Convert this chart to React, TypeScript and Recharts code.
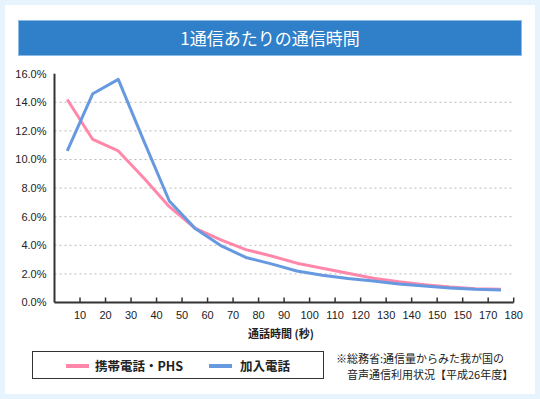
import React from 'react';
import { LineChart, Line, XAxis, YAxis, CartesianGrid } from 'recharts';

// 通話時間（秒） — midpoints of each 10-second bucket
const seconds = [5, 15, 25, 35, 45, 55, 65, 75, 85, 95, 105, 115, 125, 135, 145, 155, 165, 175];
// 携帯電話・PHS (%)
const mobile = [14.2, 11.4, 10.6, 8.7, 6.7, 5.2, 4.4, 3.7, 3.25, 2.75, 2.4, 2.05, 1.7, 1.45, 1.25, 1.08, 0.97, 0.92];
// 加入電話 (%)
const landline = [10.6, 14.6, 15.6, 11.3, 7.1, 5.2, 4.0, 3.15, 2.7, 2.2, 1.9, 1.68, 1.5, 1.3, 1.15, 1.02, 0.92, 0.88];

const xTicks = [10, 20, 30, 40, 50, 60, 70, 80, 90, 100, 110, 120, 130, 140, 150, 160, 170, 180];
// labels as printed in the original (160 is shown as "150")
const xTickLabels = ['10', '20', '30', '40', '50', '60', '70', '80', '90', '100', '110', '120', '130', '140', '150', '150', '170', '180'];
const yTicks = [0, 2, 4, 6, 8, 10, 12, 14, 16];
const gridValues = [2, 4, 6, 8, 10, 12, 14];

const seriesNames = ['携帯電話・PHS', '加入電話'];
const PINK = '#FF88AA';
const BLUE = '#6699E0';

const data = seconds.map((s, i) => ({ sec: s, mobile: mobile[i], landline: landline[i] }));

const JP = '"Noto Sans CJK JP", "Noto Sans", sans-serif';
const NUM = '"Liberation Sans", Arial, sans-serif';

function XTick(props: any) {
  const { x, y, payload } = props;
  const idx = xTicks.indexOf(payload.value);
  return (
    <g>
      <line x1={x} x2={x} y1={y - 5} y2={y} stroke="#333" strokeWidth={1.5} />
      <text x={x} y={y + 16} textAnchor="middle" fontSize={11} fontFamily={NUM} fill="#222">
        {idx >= 0 ? xTickLabels[idx] : payload.value}
      </text>
    </g>
  );
}

export default function App() {
  return (
    <div style={{ position: 'absolute', left: 0, top: 0, width: 540, height: 399, background: '#E8F4FD', overflow: 'hidden' }}>
      <div style={{ position: 'absolute', left: 5, top: 5, width: 530, height: 389, background: '#fff' }} />
      <div
        style={{
          position: 'absolute', left: 18, top: 20, width: 502, height: 34,
          background: '#2F7FC9', border: '1px solid #8DBBE6',
          color: '#fff', fontFamily: JP, fontSize: 17, lineHeight: '34px', textAlign: 'center',
        }}
      >
        1通信あたりの通信時間
      </div>

      <div style={{ position: 'absolute', left: 0, top: 0 }}>
        <LineChart width={540} height={399} data={data} margin={{ top: 73.7, right: 26.3, bottom: 76.5, left: 0 }}>
          <CartesianGrid vertical={false} horizontalValues={gridValues} stroke="#BBBBBB" strokeDasharray="2 3" />
          <XAxis
            dataKey="sec"
            type="number"
            domain={[0, 180]}
            ticks={xTicks}
            interval={0}
            height={20}
            tickSize={0}
            tickMargin={0}
            tickLine={false}
            tick={<XTick />}
            axisLine={{ stroke: '#333', strokeWidth: 2 }}
          />
          <YAxis
            type="number"
            domain={[0, 16]}
            ticks={yTicks}
            interval={0}
            width={54.5}
            tickSize={0}
            tickMargin={8}
            tickLine={false}
            axisLine={{ stroke: '#333', strokeWidth: 2 }}
            tickFormatter={(v: number) => v.toFixed(1) + '%'}
            tick={{ fontSize: 11, fontFamily: NUM, fill: '#222' }}
          />
          <Line dataKey="mobile" stroke={PINK} strokeWidth={3} dot={false} isAnimationActive={false} strokeLinejoin="round" />
          <Line dataKey="landline" stroke={BLUE} strokeWidth={3} dot={false} isAnimationActive={false} strokeLinejoin="round" />
        </LineChart>
      </div>

      <div style={{ position: 'absolute', left: 231, top: 325, width: 100, textAlign: 'center', fontFamily: JP, fontSize: 11, fontWeight: 'bold', color: '#222' }}>
        通話時間 (秒)
      </div>

      <div style={{ position: 'absolute', left: 32, top: 351, width: 292, height: 28, border: '1px solid #333', boxSizing: 'border-box' }}>
        <div style={{ position: 'absolute', left: 33, top: 12, width: 23, height: 4, background: PINK }} />
        <div style={{ position: 'absolute', left: 62, top: 4, fontFamily: JP, fontSize: 12.5, fontWeight: 'bold', color: '#222', whiteSpace: 'nowrap' }}>
          {seriesNames[0]}
        </div>
        <div style={{ position: 'absolute', left: 176, top: 12, width: 23, height: 4, background: BLUE }} />
        <div style={{ position: 'absolute', left: 207, top: 4, fontFamily: JP, fontSize: 12.5, fontWeight: 'bold', color: '#222', whiteSpace: 'nowrap' }}>
          {seriesNames[1]}
        </div>
      </div>

      <div style={{ position: 'absolute', left: 336, top: 350, fontFamily: JP, fontSize: 11, lineHeight: '16px', color: '#222', whiteSpace: 'nowrap' }}>
        <div>※総務省:通信量からみた我が国の</div>
        <div style={{ paddingLeft: 11 }}>音声通信利用状況【平成26年度】</div>
      </div>
    </div>
  );
}
